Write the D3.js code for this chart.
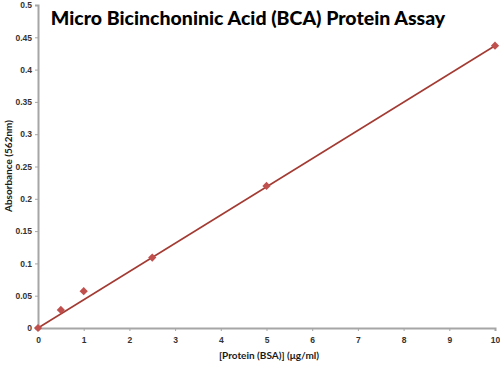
<!DOCTYPE html>
<html>
<head>
<meta charset="utf-8">
<script src="https://cdn.jsdelivr.net/npm/d3@7"></script>
<style>
  body { margin: 0; background: #fff; }
  svg { display: block; font-family: Lato, "Open Sans", sans-serif; }
  .tick text { font-size: 8.5px; font-weight: bold; fill: #333; }
  .axis-label { font-size: 10px; font-weight: bold; fill: #1a1a1a; }
</style>
</head>
<body>
<svg width="500" height="365"></svg>
<script>
// concentrations (ug/ml) and absorbance readings
const protein = [0, 0.5, 1, 2.5, 5, 10];
const absorbance = [0, 0.028, 0.057, 0.109, 0.22, 0.437];
// trend line end points as drawn
const trendX = [0, 10];
const trendY = [0, 0.437];
const xTicks = [0, 1, 2, 3, 4, 5, 6, 7, 8, 9, 10];
const yTicks = [0, 0.05, 0.1, 0.15, 0.2, 0.25, 0.3, 0.35, 0.4, 0.45, 0.5];

const svg = d3.select("svg");
const margin = { top: 5, right: 5, bottom: 37, left: 38 };
const width = +svg.attr("width") - margin.left - margin.right;
const height = +svg.attr("height") - margin.top - margin.bottom;

const g = svg.append("g")
  .attr("transform", `translate(${margin.left},${margin.top})`);

const x = d3.scaleLinear().domain([0, 10]).range([0, width]);
const y = d3.scaleLinear().domain([0, 0.5]).range([height, 0]);

const xAxis = g.append("g")
  .attr("transform", `translate(0,${height})`)
  .call(d3.axisBottom(x).tickValues(xTicks).tickFormat(d3.format("d")).tickSize(3).tickPadding(6));

const yAxis = g.append("g")
  .call(d3.axisLeft(y).tickValues(yTicks).tickFormat(d => d === 0 ? "0" : String(+d.toFixed(2))).tickSize(3).tickPadding(3));

[xAxis, yAxis].forEach(a => {
  a.select(".domain").attr("stroke", "#a6a6a6").attr("stroke-width", 2);
  a.selectAll(".tick line").attr("stroke", "#a6a6a6");
});

svg.append("text")
  .attr("x", 248)
  .attr("y", 25)
  .attr("text-anchor", "middle")
  .style("font-size", "19.5px")
  .style("font-weight", "900")
  .attr("fill", "#000")
  .text("Micro Bicinchoninic Acid (BCA) Protein Assay");

svg.append("text")
  .attr("class", "axis-label")
  .attr("x", 269)
  .attr("y", 359)
  .attr("text-anchor", "middle")
  .text("[Protein (BSA)] (\u03bcg/ml)");

svg.append("text")
  .attr("class", "axis-label")
  .attr("transform", "rotate(-90)")
  .attr("x", -166)
  .attr("y", 12)
  .attr("text-anchor", "middle")
  .text("Absorbance (562nm)");

const line = d3.line()
  .x(d => x(d[0]))
  .y(d => y(d[1]));

g.append("path")
  .datum(d3.zip(trendX, trendY))
  .attr("fill", "none")
  .attr("stroke", "#a33b33")
  .attr("stroke-width", 1.6)
  .attr("d", line);

g.selectAll(".pt")
  .data(d3.zip(protein, absorbance))
  .join("path")
  .attr("class", "pt")
  .attr("transform", d => `translate(${x(d[0])},${y(d[1])}) rotate(45)`)
  .attr("d", d3.symbol(d3.symbolSquare, 34))
  .attr("fill", "#c0504d");
</script>
</body>
</html>
